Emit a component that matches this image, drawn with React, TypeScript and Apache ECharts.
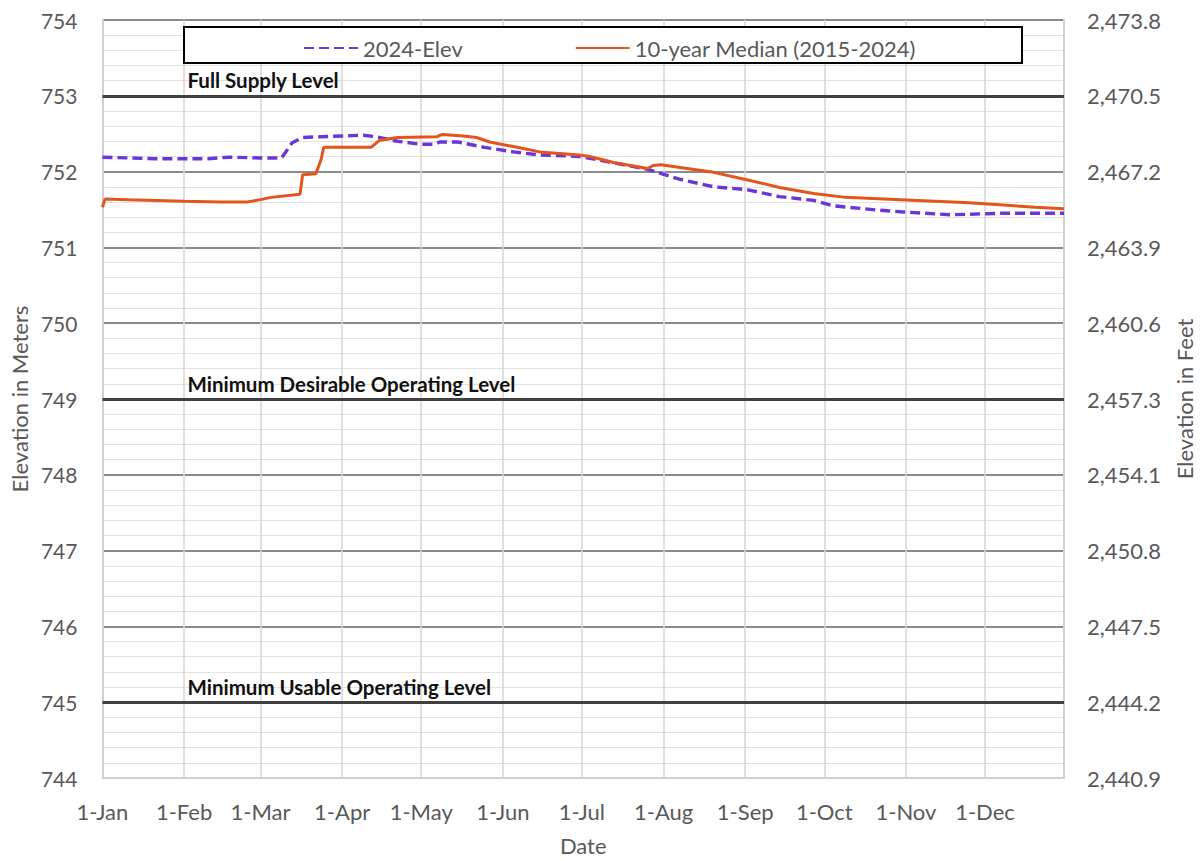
import React, { useEffect, useRef } from "react";
import * as echarts from "echarts";

const monthNames = ["Jan", "Feb", "Mar", "Apr", "May", "Jun", "Jul", "Aug", "Sep", "Oct", "Nov", "Dec"];
const monthDays = [31, 29, 31, 30, 31, 30, 31, 31, 30, 31, 30, 31];

const days: string[] = [];
monthNames.forEach((m, i) => {
  for (let d = 1; d <= monthDays[i]; d++) days.push(`${d}-${m}`);
});

const elev2024: [string, number][] = [
  ["1-Jan", 752.19], ["21-Jan", 752.17], ["10-Feb", 752.17], ["18-Feb", 752.19],
  ["1-Mar", 752.18], ["9-Mar", 752.18], ["13-Mar", 752.38], ["17-Mar", 752.45],
  ["24-Mar", 752.46], ["9-Apr", 752.48], ["14-Apr", 752.46], ["22-Apr", 752.4],
  ["1-May", 752.36], ["6-May", 752.36], ["8-May", 752.39], ["15-May", 752.39],
  ["25-May", 752.32], ["5-Jun", 752.26], ["15-Jun", 752.22], ["30-Jun", 752.2],
  ["11-Jul", 752.13], ["26-Jul", 752.03], ["7-Aug", 751.9], ["20-Aug", 751.8],
  ["2-Sep", 751.76], ["14-Sep", 751.67], ["27-Sep", 751.62], ["4-Oct", 751.55],
  ["22-Oct", 751.49], ["30-Oct", 751.47], ["18-Nov", 751.43], ["7-Dec", 751.45],
  ["31-Dec", 751.45],
];

const median10yr: [string, number][] = [
  ["1-Jan", 751.53], ["2-Jan", 751.64], ["11-Jan", 751.63], ["1-Feb", 751.61],
  ["15-Feb", 751.6], ["25-Feb", 751.6], ["1-Mar", 751.63], ["5-Mar", 751.66],
  ["16-Mar", 751.7], ["17-Mar", 751.96], ["22-Mar", 751.97], ["24-Mar", 752.16],
  ["25-Mar", 752.32], ["12-Apr", 752.32], ["15-Apr", 752.41], ["22-Apr", 752.45],
  ["7-May", 752.46], ["9-May", 752.49], ["17-May", 752.47], ["22-May", 752.45],
  ["27-May", 752.39], ["5-Jun", 752.33], ["15-Jun", 752.26], ["30-Jun", 752.22],
  ["4-Jul", 752.2], ["13-Jul", 752.12], ["26-Jul", 752.04], ["28-Jul", 752.08],
  ["31-Jul", 752.09], ["20-Aug", 751.99], ["2-Sep", 751.89], ["14-Sep", 751.79],
  ["27-Sep", 751.71], ["9-Oct", 751.66], ["30-Oct", 751.63], ["25-Nov", 751.59],
  ["20-Dec", 751.53], ["31-Dec", 751.51],
];

const levelLines: { name: string; value: number }[] = [
  { name: "Full Supply Level", value: 753 },
  { name: "Minimum Desirable Operating Level", value: 749 },
  { name: "Minimum Usable Operating Level", value: 745 },
];

const yMin = 744;
const yMax = 754;
const M_TO_FT = 3.28084;

const FONT = "Lato, 'Liberation Sans', sans-serif";
const GREY_TEXT = "#595959";

export default function App() {
  const ref = useRef<HTMLDivElement>(null);
  useEffect(() => {
    if (!ref.current) return;
    const chart = echarts.init(ref.current, undefined, { renderer: "svg" });
    const isMonthStart = (idx: number) => days[idx].startsWith("1-") || idx === days.length - 1;
    chart.setOption({
      animation: false,
      backgroundColor: "#fff",
      textStyle: { fontFamily: FONT },
      grid: { left: 102, right: 138, top: 20, bottom: 81, containLabel: false },
      graphic: [
        {
          type: "rect",
          z: 3,
          shape: { x: 184, y: 27, width: 838, height: 36 },
          style: { fill: "#fff", stroke: "#000", lineWidth: 2 },
        },
      ],
      legend: {
        z: 10,
        left: 298,
        top: 32,
        itemGap: 112,
        itemWidth: 54,
        itemHeight: 14,
        itemStyle: { opacity: 0 },
        textStyle: { color: GREY_TEXT, fontSize: 22, fontFamily: FONT },
        data: ["2024-Elev", "10-year Median (2015-2024)"],
      },
      xAxis: {
        type: "category",
        data: days,
        boundaryGap: false,
        name: "Date",
        nameLocation: "middle",
        nameGap: 56,
        nameTextStyle: { color: GREY_TEXT, fontSize: 22, fontFamily: FONT },
        axisLine: { show: true, lineStyle: { color: "#d0d0d0", width: 2 } },
        axisTick: { show: false },
        axisLabel: {
          interval: (idx: number, v: string) => v.startsWith("1-"),
          color: GREY_TEXT,
          fontSize: 22,
          margin: 22,
          fontFamily: FONT,
        },
        splitLine: {
          show: true,
          interval: (idx: number) => isMonthStart(idx),
          lineStyle: { color: "#d6d6d6", width: 1.5 },
        },
      },
      yAxis: [
        {
          type: "value",
          min: yMin,
          max: yMax,
          interval: 1,
          name: "Elevation in Meters",
          nameLocation: "middle",
          nameGap: 69,
          nameTextStyle: { color: GREY_TEXT, fontSize: 22, fontFamily: FONT },
          axisLine: { show: true, lineStyle: { color: "#d0d0d0", width: 2 } },
          axisTick: { show: false },
          axisLabel: { color: GREY_TEXT, fontSize: 21, margin: 25, fontFamily: FONT },
          splitLine: { show: true, lineStyle: { color: "#8c8c8c", width: 2 } },
          minorTick: { show: false, splitNumber: 5 },
          minorSplitLine: { show: true, lineStyle: { color: "#e2e2e2", width: 1 } },
        },
        {
          type: "value",
          min: yMin,
          max: yMax,
          interval: 1,
          position: "right",
          name: "Elevation in Feet",
          nameLocation: "middle",
          nameGap: 109,
          nameRotate: 90,
          nameTextStyle: { color: GREY_TEXT, fontSize: 22, fontFamily: FONT },
          axisLine: { show: true, lineStyle: { color: "#d0d0d0", width: 2 } },
          axisTick: { show: false },
          axisLabel: {
            color: GREY_TEXT,
            fontSize: 22,
            margin: 23,
            fontFamily: FONT,
            formatter: (v: number) =>
              (v * M_TO_FT).toLocaleString("en-US", { minimumFractionDigits: 1, maximumFractionDigits: 1 }),
          },
          splitLine: { show: false },
        },
      ],
      series: [
        {
          name: "2024-Elev",
          type: "line",
          data: elev2024,
          symbol: "none",
          z: 4,
          lineStyle: { color: "#6c35dc", width: 3.4, type: [10, 5] },
          itemStyle: { color: "#6c35dc" },
          markLine: {
            silent: true,
            symbol: "none",
            z: 1,
            lineStyle: { color: "#404040", width: 3, type: "solid" },
            label: {
              show: true,
              position: "insideStartTop",
              distance: [85, 5],
              color: "#111",
              fontWeight: "bold",
              fontSize: 20.5,
              fontFamily: FONT,
              formatter: (p: any) => p.name,
            },
            data: levelLines.map((l) => ({ name: l.name, yAxis: l.value })),
          },
        },
        {
          name: "10-year Median (2015-2024)",
          type: "line",
          data: median10yr,
          symbol: "none",
          z: 5,
          lineStyle: { color: "#e4541c", width: 3 },
          itemStyle: { color: "#e4541c" },
        },
      ],
    });
    return () => chart.dispose();
  }, []);
  return (
    <div
      ref={ref}
      style={{ position: "absolute", left: 0, top: 0, width: 1203, height: 861 }}
    />
  );
}
